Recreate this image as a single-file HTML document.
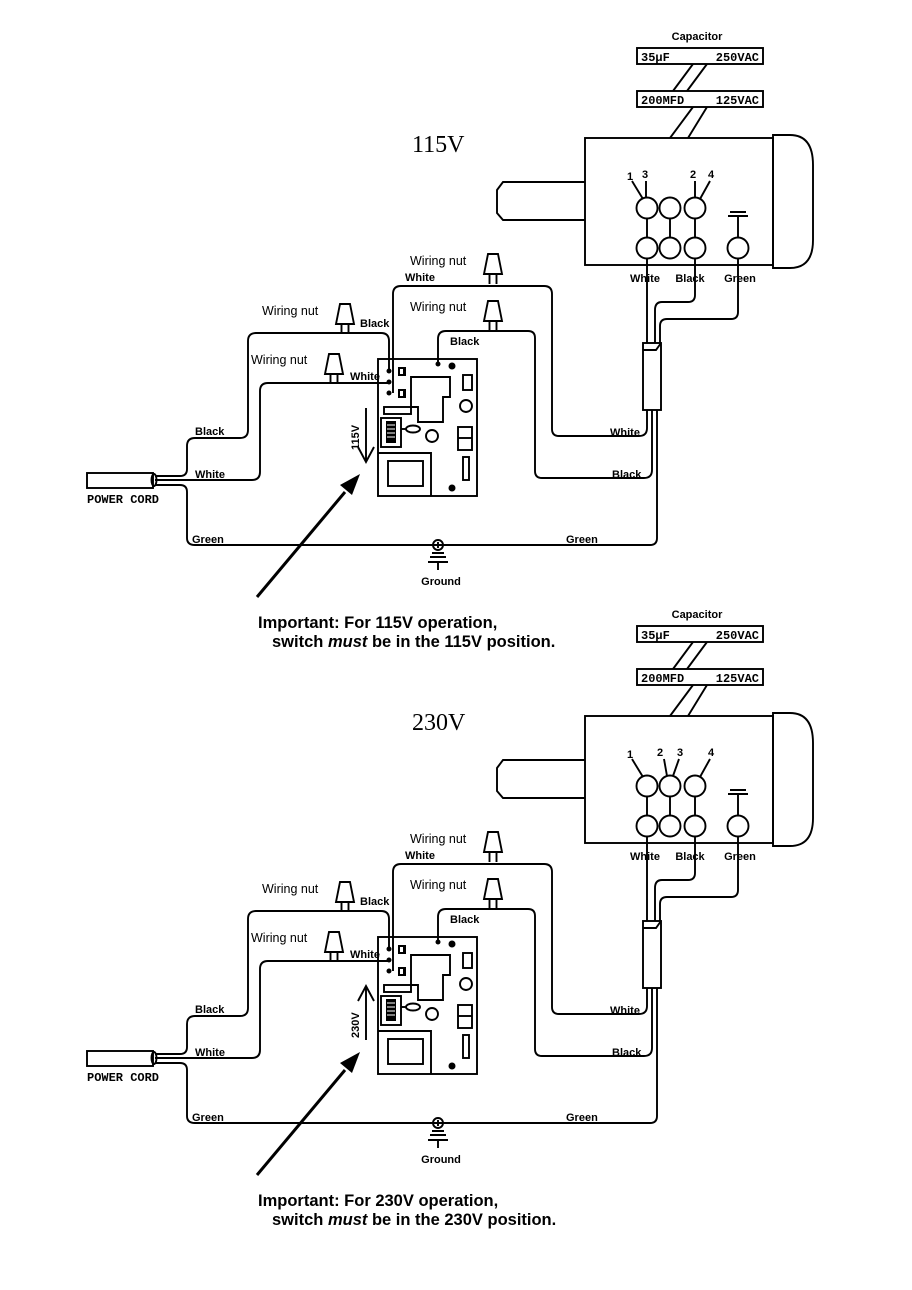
<!DOCTYPE html>
<html><head><meta charset="utf-8"><style>
html,body{margin:0;padding:0;background:#fff;}
svg{display:block;}
.l{fill:none;stroke:#000;stroke-width:1.9;}
.t{font-family:"Liberation Sans",sans-serif;font-size:12.5px;fill:#000;}
.b{font-family:"Liberation Sans",sans-serif;font-size:11px;font-weight:bold;fill:#000;}
.m{font-family:"Liberation Mono",monospace;font-size:12px;font-weight:bold;fill:#000;}
.imp{font-family:"Liberation Sans",sans-serif;font-size:16.5px;font-weight:bold;fill:#000;}
.ttl{font-family:"Liberation Serif",serif;font-size:24px;fill:#000;}
</style></head><body>
<svg width="912" height="1290" viewBox="0 0 912 1290" xmlns="http://www.w3.org/2000/svg">
<defs>
<g id="nut"><path class="l" d="M-5,0 L5,0 L9,20 L-9,20 Z M-3.5,20 L-3.5,30 M3.5,20 L3.5,30" fill="#fff"/></g>
<g id="common">
 <text class="b" x="697" y="40" text-anchor="middle">Capacitor</text>
 <rect class="l" x="637" y="48" width="126" height="16"/>
 <text class="m" x="641" y="61">35µF</text><text class="m" x="759" y="61" text-anchor="end">250VAC</text>
 <rect class="l" x="637" y="91" width="126" height="16"/>
 <text class="m" x="641" y="104">200MFD</text><text class="m" x="759" y="104" text-anchor="end">125VAC</text>
 <path class="l" d="M693,64 L673,91 M707,64 L687,91 M693,107 L670,138 M707,107 L688,138"/>
 <rect class="l" x="585" y="138" width="188" height="127"/>
 <path class="l" d="M773,135 L790,135 Q813,135 813,165 L813,240 Q813,268 790,268 L773,268 Z"/>
 <path class="l" d="M585,182 L503,182 L497,190 L497,213 L503,220 L585,220"/>
 <circle class="l" cx="738" cy="248" r="10.5"/>
 <path class="l" d="M738,216 L738,237 M730,212 L746,212 M728,216 L748,216"/>
 <text class="b" x="645" y="282" text-anchor="middle">White</text>
 <text class="b" x="690" y="282" text-anchor="middle">Black</text>
 <text class="b" x="740" y="282" text-anchor="middle">Green</text>
 <path class="l" d="M647,258 L647,343 M695,258 L695,295 Q695,302 688,302 L662,302 Q655,302 655,310 L655,343 M738,258 L738,312 Q738,319 731,319 L667,319 Q660,319 660,326 L660,343"/>
 <rect class="l" x="643" y="343" width="18" height="67"/>
 <path class="l" d="M643,350 L656,350 L661,343"/>
 <path class="l" d="M647,410 L647,428 Q647,436 639,436 L559,436 Q552,436 552,429 L552,294 Q552,286 544,286 L401,286 Q393,286 393,294 L393,393"/>
 <path class="l" d="M652,410 L652,470 Q652,478 644,478 L542,478 Q535,478 535,471 L535,338 Q535,331 528,331 L446,331 Q438,331 438,339 L438,364"/>
 <path class="l" d="M657,410 L657,538 Q657,545 650,545 L195,545 Q187,545 187,538 L187,492 Q187,485 180,485 L155,485"/>
 <path class="l" d="M155,476 L180,476 Q187,476 187,469 L187,446 Q187,438 195,438 L240,438 Q248,438 248,430 L248,341 Q248,333 256,333 L381,333 Q389,333 389,341 L389,371"/>
 <path class="l" d="M155,480 L252,480 Q260,480 260,472 L260,391 Q260,383 268,383 L389,383"/>
 <rect class="l" x="87" y="473" width="66" height="15"/>
 <ellipse class="l" cx="154" cy="480" rx="2.5" ry="6"/>
 <text class="m" x="87" y="503">POWER CORD</text>
 <use href="#nut" x="493" y="254"/>
 <use href="#nut" x="493" y="301"/>
 <use href="#nut" x="345" y="304"/>
 <use href="#nut" x="334" y="354"/>
 <text class="t" x="410" y="265">Wiring nut</text>
 <text class="t" x="410" y="311">Wiring nut</text>
 <text class="t" x="262" y="315">Wiring nut</text>
 <text class="t" x="251" y="364">Wiring nut</text>
 <text class="b" x="405" y="281">White</text>
 <text class="b" x="360" y="327">Black</text>
 <text class="b" x="450" y="345">Black</text>
 <text class="b" x="350" y="380">White</text>
 <text class="b" x="195" y="435">Black</text>
 <text class="b" x="195" y="478">White</text>
 <text class="b" x="192" y="543">Green</text>
 <text class="b" x="566" y="543">Green</text>
 <text class="b" x="610" y="436">White</text>
 <text class="b" x="612" y="478">Black</text>
 <rect class="l" x="378" y="359" width="99" height="137" stroke-width="2.2"/>
 <circle cx="389" cy="371" r="2.5"/><circle cx="389" cy="382" r="2.5"/><circle cx="389" cy="393" r="2.5"/><circle cx="438" cy="364" r="2.5"/>
 <rect x="398" y="367" width="8" height="9"/><rect x="398" y="389" width="8" height="9"/>
 <rect x="400" y="369" width="3" height="5" fill="#fff"/><rect x="400" y="391" width="3" height="5" fill="#fff"/>
 <path class="l" d="M411,377 L450,377 L450,397 L443,397 L443,422 L418,422 L418,407 L411,407 Z"/>
 <rect class="l" x="384" y="407" width="27" height="7"/>
 <rect class="l" x="381" y="418" width="20" height="29"/>
 <rect x="386" y="421" width="10" height="22"/>
 <path stroke="#fff" stroke-width="1" d="M387,425 L395,425 M387,429 L395,429 M387,433 L395,433 M387,437 L395,437"/>
 <ellipse class="l" cx="413" cy="429" rx="7" ry="3.5"/>
 <path class="l" d="M401,429 L406,429"/>
 <circle class="l" cx="432" cy="436" r="6"/>
 <rect class="l" x="463" y="375" width="9" height="15"/>
 <circle class="l" cx="466" cy="406" r="6"/>
 <rect class="l" x="458" y="427" width="14" height="23"/><path class="l" d="M458,438 L472,438"/>
 <rect class="l" x="463" y="457" width="6" height="23"/>
 <path class="l" d="M378,453 L431,453 L431,496"/>
 <rect class="l" x="388" y="461" width="35" height="25"/>
 <circle cx="452" cy="366" r="3.5"/><circle cx="452" cy="488" r="3.5"/>
 <circle class="l" cx="438" cy="545" r="5" fill="#fff"/>
 <path class="l" d="M438,542 L438,548 M435,545 L441,545 M432,553 L444,553 M430,557 L446,557 M428,562 L448,562 M438,562 L438,570"/>
 <text class="b" x="441" y="585" text-anchor="middle" font-size="12">Ground</text>
 <path d="M257,597 L345,492" stroke="#000" stroke-width="3"/>
 <path d="M360,474 L340,485 L352,495 Z"/>
</g>
</defs>

<use href="#common"/>
<text class="ttl" x="412" y="152">115V</text>
<circle class="l" cx="647" cy="208" r="10.5"/><circle class="l" cx="670" cy="208" r="10.5"/><circle class="l" cx="695" cy="208" r="10.5"/>
<circle class="l" cx="647" cy="248" r="10.5"/><circle class="l" cx="670" cy="248" r="10.5"/><circle class="l" cx="695" cy="248" r="10.5"/>
<path class="l" d="M647,218 L647,238 M670,218 L670,238 M695,218 L695,238 M632,181 L643,199 M646,181 L646,198 M695,181 L695,198 M710,181 L700,199"/>
<text class="b" x="627" y="180" font-size="12">1</text><text class="b" x="642" y="178" font-size="12">3</text>
<text class="b" x="690" y="178" font-size="12">2</text><text class="b" x="708" y="178" font-size="12">4</text>
<text class="b" x="359" y="450" transform="rotate(-90 359 450)" font-size="12">115V</text>
<path class="l" d="M366,408 L366,462 M358,447 L366,462 L374,447"/>
<text class="imp" x="258" y="628">Important: For 115V operation,</text>
<text class="imp" x="272" y="647">switch <tspan font-style="italic">must</tspan> be in the 115V position.</text>

<g transform="translate(0,578)">
<use href="#common"/>
<text class="ttl" x="412" y="152">230V</text>
<circle class="l" cx="647" cy="208" r="10.5"/><circle class="l" cx="670" cy="208" r="10.5"/><circle class="l" cx="695" cy="208" r="10.5"/>
<circle class="l" cx="647" cy="248" r="10.5"/><circle class="l" cx="670" cy="248" r="10.5"/><circle class="l" cx="695" cy="248" r="10.5"/>
<path class="l" d="M647,218 L647,238 M670,218 L670,238 M695,218 L695,238 M632,181 L643,199 M664,181 L667,198 M679,181 L673,198 M710,181 L700,199"/>
<text class="b" x="627" y="180" font-size="12">1</text><text class="b" x="657" y="178" font-size="12">2</text>
<text class="b" x="677" y="178" font-size="12">3</text><text class="b" x="708" y="178" font-size="12">4</text>
<text class="b" x="359" y="460" transform="rotate(-90 359 460)" font-size="12">230V</text>
<path class="l" d="M366,462 L366,408 M358,423 L366,408 L374,423"/>
<text class="imp" x="258" y="628">Important: For 230V operation,</text>
<text class="imp" x="272" y="647">switch <tspan font-style="italic">must</tspan> be in the 230V position.</text>
</g>
</svg>
</body></html>
